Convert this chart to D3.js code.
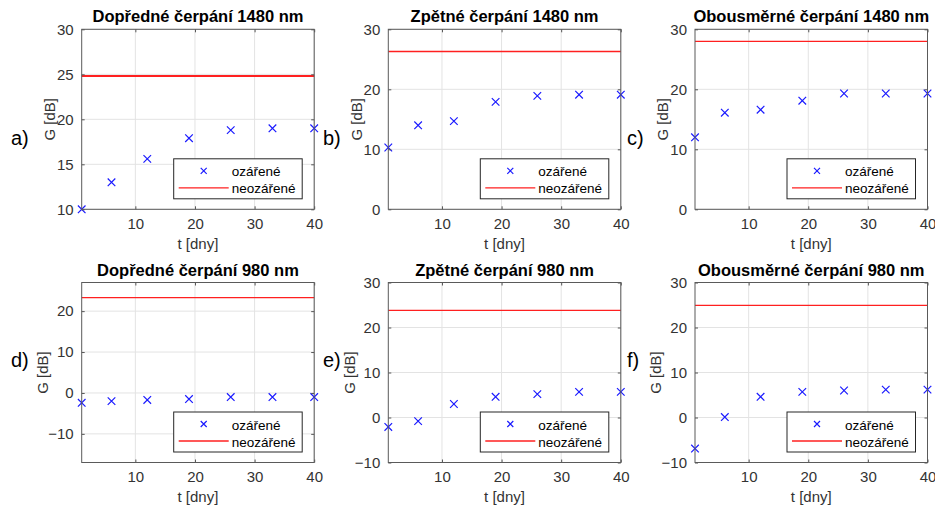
<!DOCTYPE html>
<html><head><meta charset="utf-8">
<script src="https://cdn.jsdelivr.net/npm/d3@7"></script>
<style>
body{margin:0;background:#fff}
text{font-family:"Liberation Sans",Arial,Helvetica,sans-serif}
</style></head>
<body><svg id="chart" width="935" height="512"></svg>
<script>
// ---- data ----
const tDays = [1, 6, 12, 19, 26, 33, 40];
const xTicks = [10, 20, 30, 40];
const titles = ["Dopředné čerpání 1480 nm", "Zpětné čerpání 1480 nm", "Obousměrné čerpání 1480 nm",
                "Dopředné čerpání 980 nm", "Zpětné čerpání 980 nm", "Obousměrné čerpání 980 nm"];
const panelLabels = ["a)", "b)", "c)", "d)", "e)", "f)"];
const irrA = [10.0, 13.0, 15.6, 17.9, 18.8, 19.0, 19.0];
const irrB = [10.3, 14.0, 14.7, 17.9, 18.9, 19.1, 19.1];
const irrC = [12.0, 16.1, 16.6, 18.1, 19.3, 19.3, 19.3];
const irrD = [-2.4, -2.0, -1.7, -1.5, -1.0, -1.0, -1.0];
const irrE = [-2.1, -0.8, 3.0, 4.6, 5.2, 5.7, 5.7];
const irrF = [-6.9, 0.1, 4.6, 5.7, 6.0, 6.2, 6.2];
const refValues = [24.8, 26.3, 28.0, 23.3, 23.8, 24.9];
const yDomains = [[10, 30], [0, 30], [0, 30], [-17, 27], [-10, 30], [-10, 30]];
const yTicks = [[10, 15, 20, 25, 30], [0, 10, 20, 30], [0, 10, 20, 30],
                [-10, 0, 10, 20], [-10, 0, 10, 20, 30], [-10, 0, 10, 20, 30]];
const legendLabels = ["ozářené", "neozářené"];
const xLabel = "t [dny]";
const yLabel = "G [dB]";
const irrSeries = [irrA, irrB, irrC, irrD, irrE, irrF];

// ---- layout ----
const colLeft = [81.7, 388.3, 695];
const rowTop = [29.3, 282.5];
const plotW = 232.5, plotH = 180;
const labelX = [11, 323, 627];
const labelY = [145, 367];
const yLabelOff = [32, 39];

const svg = d3.select("#chart");

irrSeries.forEach((vals, i) => {
  const col = i % 3, row = Math.floor(i / 3);
  const L = colLeft[col], T = rowTop[row];
  const x = d3.scaleLinear().domain([1, 40]).range([0, plotW]);
  const y = d3.scaleLinear().domain(yDomains[i]).range([plotH, 0]);
  const g = svg.append("g").attr("transform", `translate(${L},${T})`);

  g.append("rect").attr("width", plotW).attr("height", plotH).attr("fill", "#fff");

  // grid
  g.append("g").selectAll("line").data(xTicks).join("line")
    .attr("x1", d => x(d)).attr("x2", d => x(d)).attr("y1", 0).attr("y2", plotH)
    .attr("stroke", "#e3e3e3").attr("stroke-width", 1);
  g.append("g").selectAll("line").data(yTicks[i]).join("line")
    .attr("y1", d => y(d)).attr("y2", d => y(d)).attr("x1", 0).attr("x2", plotW)
    .attr("stroke", "#e3e3e3").attr("stroke-width", 1);

  // reference line
  g.append("line")
    .attr("x1", x(1)).attr("x2", x(40))
    .attr("y1", y(refValues[i])).attr("y2", y(refValues[i]))
    .attr("stroke", "#ff2020").attr("stroke-width", i === 0 ? 2 : 1.3);

  // markers
  const s = 3.8;
  const mk = g.append("g").attr("stroke", "#1a1aff").attr("stroke-width", 1.2);
  vals.forEach((v, k) => {
    const px = x(tDays[k]), py = y(v);
    mk.append("path").attr("d", `M${px - s},${py - s}L${px + s},${py + s}M${px - s},${py + s}L${px + s},${py - s}`);
  });

  // axes
  const ax = g.append("g").attr("transform", `translate(0,${plotH})`)
    .call(d3.axisBottom(x).tickValues(xTicks).tickSize(-3).tickPadding(9).tickFormat(d3.format("d")));
  const ay = g.append("g")
    .call(d3.axisLeft(y).tickValues(yTicks[i]).tickSize(-3).tickPadding(8).tickFormat(d3.format("d")));
  const at = g.append("g")
    .call(d3.axisTop(x).tickValues(xTicks).tickSize(-3).tickFormat(""));
  const ar = g.append("g").attr("transform", `translate(${plotW},0)`)
    .call(d3.axisRight(y).tickValues(yTicks[i]).tickSize(-3).tickFormat(""));
  [ax, ay, at, ar].forEach(a => {
    a.select(".domain").remove();
    a.selectAll("line").attr("stroke", "#555");
    a.selectAll("text").attr("fill", "#333").style("font-size", "15px")
      .style("font-family", '"Liberation Sans",Arial,sans-serif');
  });
  ax.selectAll("text").attr("dy", "0.71em");
  g.append("rect").attr("width", plotW).attr("height", plotH)
    .attr("fill", "none").attr("stroke", "#5a5a5a").attr("stroke-width", 1);

  // title
  g.append("text").attr("x", plotW / 2).attr("y", -7).attr("text-anchor", "middle")
    .style("font-size", "16.5px").style("font-weight", "bold").attr("fill", "#000").text(titles[i]);
  // x label
  g.append("text").attr("x", plotW / 2).attr("y", plotH + 39.5).attr("text-anchor", "middle")
    .style("font-size", "15px").attr("fill", "#333").text(xLabel);
  // y label
  g.append("text").attr("transform", `translate(${-yLabelOff[row]},${plotH / 2}) rotate(-90)`)
    .attr("text-anchor", "middle").attr("dy", "0.35em")
    .style("font-size", "15px").attr("fill", "#333").text(yLabel);

  // legend
  const lw = 128.5, lh = 40;
  const lg = g.append("g").attr("transform", `translate(${plotW - 12 - lw},${plotH - 10.5 - lh})`);
  lg.append("rect").attr("width", lw).attr("height", lh).attr("fill", "#fff")
    .attr("stroke", "#262626").attr("stroke-width", 1);
  const ls = 3;
  lg.append("path").attr("d", `M${30 - ls},${12 - ls}L${30 + ls},${12 + ls}M${30 - ls},${12 + ls}L${30 + ls},${12 - ls}`)
    .attr("stroke", "#1a1aff").attr("stroke-width", 1.2);
  lg.append("line").attr("x1", 5).attr("x2", 55).attr("y1", 29).attr("y2", 29)
    .attr("stroke", "#ff2020").attr("stroke-width", 1.3);
  lg.append("text").attr("x", 58).attr("y", 17.5).style("font-size", "13.5px").attr("fill", "#000").text(legendLabels[0]);
  lg.append("text").attr("x", 58).attr("y", 34.5).style("font-size", "13.5px").attr("fill", "#000").text(legendLabels[1]);

  // panel label
  svg.append("text").attr("x", labelX[col]).attr("y", labelY[row])
    .style("font-size", "20px").attr("fill", "#000").text(panelLabels[i]);
});
</script>
</body></html>
